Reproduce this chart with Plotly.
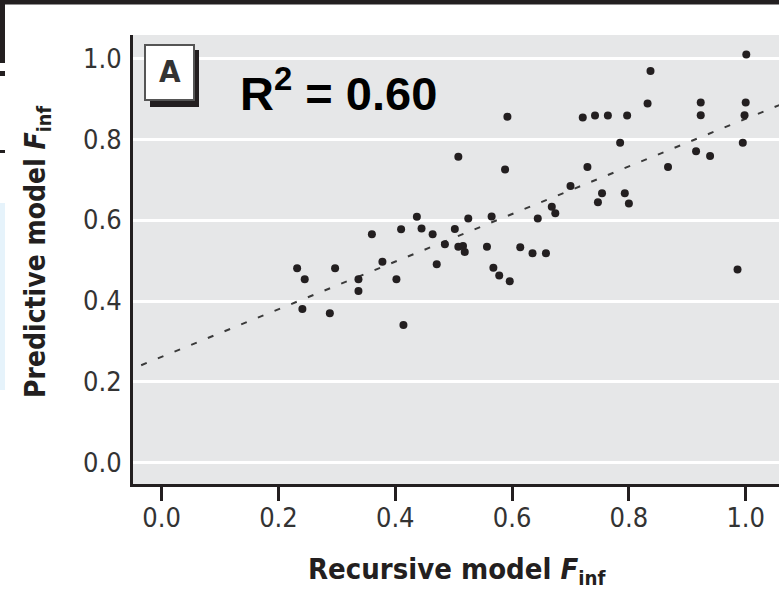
import plotly.graph_objects as go

# ---------------- data ----------------
recursive_finf = [
    0.232, 0.245, 0.241, 0.297, 0.288, 0.337, 0.337, 0.360, 0.378, 0.402,
    0.414, 0.410, 0.437, 0.445, 0.464, 0.471, 0.485, 0.502, 0.508, 0.508,
    0.519, 0.516, 0.525, 0.557, 0.565, 0.568, 0.578, 0.588, 0.592, 0.596,
    0.614, 0.635, 0.644, 0.658, 0.668, 0.674, 0.700, 0.721, 0.729, 0.742,
    0.747, 0.754, 0.764, 0.785, 0.793, 0.797, 0.800, 0.832, 0.837, 0.867,
    0.915, 0.923, 0.923, 0.939, 0.986, 0.995, 0.998, 1.000, 1.001,
]
predictive_finf = [
    0.481, 0.454, 0.380, 0.481, 0.370, 0.454, 0.425, 0.565, 0.497, 0.454,
    0.341, 0.577, 0.608, 0.579, 0.565, 0.491, 0.540, 0.578, 0.756, 0.534,
    0.521, 0.536, 0.604, 0.534, 0.609, 0.482, 0.463, 0.725, 0.855, 0.449,
    0.533, 0.518, 0.604, 0.518, 0.633, 0.617, 0.684, 0.853, 0.731, 0.858,
    0.644, 0.666, 0.858, 0.791, 0.666, 0.858, 0.641, 0.888, 0.968, 0.731,
    0.770, 0.890, 0.859, 0.758, 0.478, 0.791, 0.859, 0.890, 1.009,
]
fit_intercept = 0.262
fit_slope = 0.588
fit_x = [-0.035, 1.06]
tick_vals = [0.0, 0.2, 0.4, 0.6, 0.8, 1.0]
tick_text = ["0.0", "0.2", "0.4", "0.6", "0.8", "1.0"]
panel_label = "A"
r2_text = "R<sup>2</sup> = 0.60"
x_title = "Recursive model <i>F</i><sub>inf</sub>"
y_title = "Predictive model <i>F</i><sub>inf</sub>"

# ---------------- layout helpers ----------------
W, H = 779, 592
L, R, T, B = 133, 0, 35, 108
PW, PH = W - L - R, H - T - B


def px(x):
    return (x - L) / PW


def py(y):
    return (H - B - y) / PH


NARROW = "Liberation Sans Narrow, DejaVu Sans Condensed, Arial Narrow, sans-serif"
INK = "#231f20"

fig = go.Figure()

fit_y = [fit_intercept + fit_slope * v for v in fit_x]
fig.add_trace(go.Scatter(
    x=fit_x, y=fit_y, mode="lines",
    line=dict(color="#3a3a3a", width=2, dash="6px,12px"),
    hoverinfo="skip", showlegend=False,
))
fig.add_trace(go.Scatter(
    x=recursive_finf, y=predictive_finf, mode="markers",
    marker=dict(symbol="circle", size=8, color=INK, line=dict(width=0)),
    showlegend=False,
))

shapes = [
    # scan artifacts from neighbouring panels
    dict(type="rect", xref="paper", yref="paper", x0=px(0), x1=px(W), y0=py(4.5), y1=py(0),
         fillcolor=INK, line=dict(width=0), layer="above"),
    dict(type="rect", xref="paper", yref="paper", x0=px(0), x1=px(5), y0=py(63), y1=py(0),
         fillcolor=INK, line=dict(width=0), layer="above"),
    dict(type="rect", xref="paper", yref="paper", x0=px(0), x1=px(5), y0=py(76), y1=py(71),
         fillcolor=INK, line=dict(width=0), layer="above"),
    dict(type="rect", xref="paper", yref="paper", x0=px(0), x1=px(5), y0=py(153), y1=py(150),
         fillcolor=INK, line=dict(width=0), layer="above"),
    dict(type="rect", xref="paper", yref="paper", x0=px(0), x1=px(5), y0=py(390), y1=py(203),
         fillcolor="#e6f3fb", line=dict(width=0), layer="above"),
    # panel label box with shadow
    dict(type="rect", xref="paper", yref="paper", x0=px(150), x1=px(199), y0=py(107), y1=py(50),
         fillcolor=INK, line=dict(width=0), layer="above"),
    dict(type="rect", xref="paper", yref="paper", x0=px(145), x1=px(194), y0=py(100), y1=py(45),
         fillcolor="white", line=dict(color="#555555", width=2), layer="above"),
]

annotations = [
    dict(text=panel_label, xref="paper", yref="paper", x=px(169.5), y=py(71),
         xanchor="center", yanchor="middle", showarrow=False,
         font=dict(family=NARROW, size=31, color="#333333", weight="bold")),
    dict(text=r2_text, xref="paper", yref="paper", x=px(238), y=py(90),
         xanchor="left", yanchor="middle", showarrow=False,
         font=dict(family="Liberation Sans, Arial, sans-serif", size=47, color="black", weight="bold")),
    dict(text=x_title, xref="paper", yref="paper", x=px(457), y=py(571),
         xanchor="center", yanchor="middle", showarrow=False,
         font=dict(family=NARROW, size=29, color=INK, weight="bold")),
    dict(text=y_title, xref="paper", yref="paper", x=px(38), y=py(252),
         xanchor="center", yanchor="middle", showarrow=False, textangle=-90,
         font=dict(family=NARROW, size=28, color=INK, weight="bold")),
]

fig.update_layout(
    width=W, height=H,
    margin=dict(l=L, r=R, t=T, b=B, pad=0),
    paper_bgcolor="white", plot_bgcolor="#e6e7e8",
    shapes=shapes, annotations=annotations,
    showlegend=False,
)
fig.update_xaxes(
    range=[-0.049, 1.057], tickvals=tick_vals, ticktext=tick_text,
    showgrid=False, zeroline=False,
    showline=True, linecolor=INK, linewidth=3,
    ticks="outside", ticklen=14, tickwidth=3, tickcolor=INK,
    ticklabelstandoff=-6,
    tickfont=dict(family=NARROW, size=27, color="#333333"),
)
fig.update_yaxes(
    range=[-0.052, 1.057], tickvals=tick_vals, ticktext=tick_text,
    showgrid=True, gridcolor="white", gridwidth=3, zeroline=False,
    showline=True, linecolor=INK, linewidth=3,
    ticks="outside", ticklen=3, tickcolor="rgba(0,0,0,0)",
    tickfont=dict(family=NARROW, size=27, color="#333333"),
)

fig.write_html("out.html")
